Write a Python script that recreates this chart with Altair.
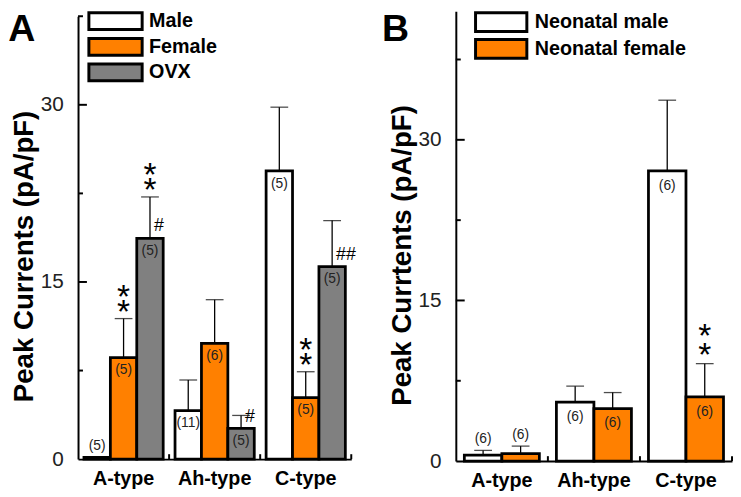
import altair as alt
import pandas as pd

FONT = "Liberation Sans"

categories = ["A-type", "Ah-type", "C-type"]

# Panel A
groups_a = ["Male", "Female", "OVX"]
colors_a = ["#FFFFFF", "#FF8000", "#808080"]
mean_a = {"Male": [0.15, 4.1, 24.4], "Female": [8.6, 9.8, 5.2], "OVX": [18.7, 2.6, 16.3]}
sem_a = {"Male": [0.05, 2.6, 5.4], "Female": [3.3, 3.7, 2.2], "OVX": [3.5, 1.1, 3.9]}
n_a = {"Male": [5, 11, 5], "Female": [5, 6, 5], "OVX": [5, 5, 5]}
stars_a = {"Male": ["", "", ""], "Female": ["**", "", "**"], "OVX": ["**", "", ""]}
hash_a = {"Male": ["", "", ""], "Female": ["", "", ""], "OVX": ["#", "#", "##"]}

# Panel B
groups_b = ["Neonatal male", "Neonatal female"]
colors_b = ["#FFFFFF", "#FF8000"]
mean_b = {"Neonatal male": [0.55, 5.5, 27.1], "Neonatal female": [0.7, 4.9, 6.0]}
sem_b = {"Neonatal male": [0.45, 1.5, 6.6], "Neonatal female": [0.7, 1.5, 3.1]}
n_b = {"Neonatal male": [6, 6, 6], "Neonatal female": [6, 6, 6]}
stars_b = {"Neonatal male": ["", "", ""], "Neonatal female": ["", "", "**"]}
hash_b = {"Neonatal male": ["", "", ""], "Neonatal female": ["", "", ""]}

major_ticks = [15, 30]
minor_ticks = [7.5, 22.5, 37.5]


def build_df(groups, mean, sem, n, stars, hashes):
    rows = []
    for g in groups:
        for i, c in enumerate(categories):
            rows.append({
                "cat": c, "grp": g, "mean": mean[g][i],
                "hi": mean[g][i] + sem[g][i], "n": f"({n[g][i]})",
                "stars": stars[g][i], "hash": hashes[g][i],
            })
    return pd.DataFrame(rows)


def panel(df, groups, colors, width, height, top, ymax, pad, title, title_y, label,
          lab_x, lab_y, leg, in_dy, star_dy, cap):
    step = width / len(categories)
    xscale = alt.Scale(type="band", domain=categories, paddingInner=pad, paddingOuter=pad / 2)
    xaxis = alt.Axis(title=None, ticks=False, labelFont=FONT, labelFontSize=20,
                     labelFontWeight="bold", labelColor="black", labelPadding=10,
                     labelAngle=0, domainColor="black", domainWidth=2)
    yscale = alt.Scale(domain=[0, ymax], nice=False, zero=True, range=[height, top])
    yaxis = alt.Axis(title=title, values=[0, 15, 30], ticks=False, grid=False,
                     labelFont=FONT, labelFontSize=21, labelColor="#222222",
                     labelPadding=15, titleFont=FONT, titleFontSize=28,
                     titleFontWeight="bold", titleColor="black", titlePadding=2,
                     titleY=title_y, domainColor="black", domainWidth=2)

    def X(**kw):
        return alt.X("cat:N", scale=xscale, axis=xaxis, **kw)

    def Y(f):
        return alt.Y(f, scale=yscale, axis=yaxis)

    xo = alt.XOffset("grp:N", scale=alt.Scale(type="band", domain=groups,
                                              paddingInner=0, paddingOuter=0))
    base = alt.Chart(df)

    err = base.mark_rule(color="black", strokeWidth=1.3).encode(
        x=X(), xOffset=xo, y=Y("mean:Q"), y2="hi:Q")
    caps = base.mark_tick(color="black", thickness=1.3, size=cap).encode(
        x=X(), xOffset=xo, y=Y("hi:Q"))
    bars = base.mark_bar(stroke="black", strokeWidth=2.8).encode(
        x=X(), xOffset=xo, y=Y("mean:Q"),
        fill=alt.Fill("grp:N", scale=alt.Scale(domain=groups, range=colors),
                      legend=alt.Legend(**leg)))
    txt = dict(font=FONT, fontSize=14, color="#222222", baseline="middle")
    n_in = base.transform_filter("datum.mean >= 2").mark_text(dy=in_dy, **txt).encode(
        x=X(), xOffset=xo, y=Y("mean:Q"), text="n:N")
    n_out = base.transform_filter("datum.mean < 2").mark_text(dy=-11, **txt).encode(
        x=X(), xOffset=xo, y=Y("hi:Q"), text="n:N")
    st = base.transform_filter("datum.stars == '**'")
    sty = dict(font=FONT, fontSize=34, baseline="alphabetic", color="black")
    s1 = st.mark_text(dy=star_dy[0] + 20, **sty).encode(
        x=X(), xOffset=xo, y=Y("hi:Q"), text=alt.value("*"))
    s2 = st.mark_text(dy=star_dy[1] + 20, **sty).encode(
        x=X(), xOffset=xo, y=Y("hi:Q"), text=alt.value("*"))
    hs = base.transform_filter("datum.hash != ''").mark_text(
        dx=4, dy=-12, align="left", baseline="middle", font=FONT, fontSize=18,
        color="black").encode(x=X(), xOffset=xo, y=Y("mean:Q"), text="hash:N")

    gap = step * pad / 2
    xt = alt.Chart(pd.DataFrame({"cat": categories})).mark_rule(
        color="black", strokeWidth=2, xOffset=gap).encode(
        x=X(bandPosition=1), y=alt.value(height), y2=alt.value(height - 5))
    ymaj = alt.Chart(pd.DataFrame({"v": major_ticks})).mark_rule(
        color="black", strokeWidth=2).encode(y=Y("v:Q"), x=alt.value(0), x2=alt.value(9))
    ymin = alt.Chart(pd.DataFrame({"v": minor_ticks})).mark_rule(
        color="black", strokeWidth=2).encode(y=Y("v:Q"), x=alt.value(0), x2=alt.value(5))
    lab = alt.Chart(pd.DataFrame({"t": [label]})).mark_text(
        font=FONT, fontSize=38, fontWeight="bold", align="center",
        baseline="alphabetic", color="black").encode(
        text="t:N", x=alt.value(lab_x), y=alt.value(lab_y))

    return alt.layer(err, bars, caps, n_in, n_out, s1, s2, hs, xt, ymaj, ymin, lab).properties(
        width=width, height=height)


def rect_path(w, h):
    hw = w / h
    return f"M{-hw},-1H{hw}V1H{-hw}Z"


leg_common = dict(orient="none", title=None, symbolStrokeWidth=3,
                  symbolStrokeColor="black", symbolOpacity=1, labelFont=FONT,
                  labelFontSize=20, labelFontWeight="bold", labelColor="black",
                  padding=0)

leg_a = dict(leg_common, legendX=28, legendY=0, symbolType=rect_path(54, 17),
             symbolSize=17 * 17, labelOffset=24, rowPadding=-4)
leg_b = dict(leg_common, legendX=35, legendY=0, symbolType=rect_path(52, 19),
             symbolSize=19 * 19, labelOffset=23, rowPadding=-7)

df_a = build_df(groups_a, mean_a, sem_a, n_a, stars_a, hash_a)
df_b = build_df(groups_b, mean_b, sem_b, n_b, stars_b, hash_b)

pa = panel(df_a, groups_a, colors_a, 277, 454, 5, 37.5, 0.13, "Peak Currents (pA/pF)", 248,
           "A", -57, 30, leg_a, 13, (-16, -31), 18)
pb = panel(df_b, groups_b, colors_b, 280, 456, 0, 42, 0.185, "Peak Currtents (pA/pF)", 247,
           "B", -61, 30, leg_b, 15, (-18, -37), 18)

chart = alt.hconcat(pa, pb, spacing=26).resolve_scale(
    fill="independent", xOffset="independent").resolve_legend(
    fill="independent").properties(
    padding={"left": 0, "top": 0, "right": 0, "bottom": 0}
).configure_view(stroke=None).configure_axis(grid=False)

chart.save("out.html", embed_options={"renderer": "svg", "actions": False})
